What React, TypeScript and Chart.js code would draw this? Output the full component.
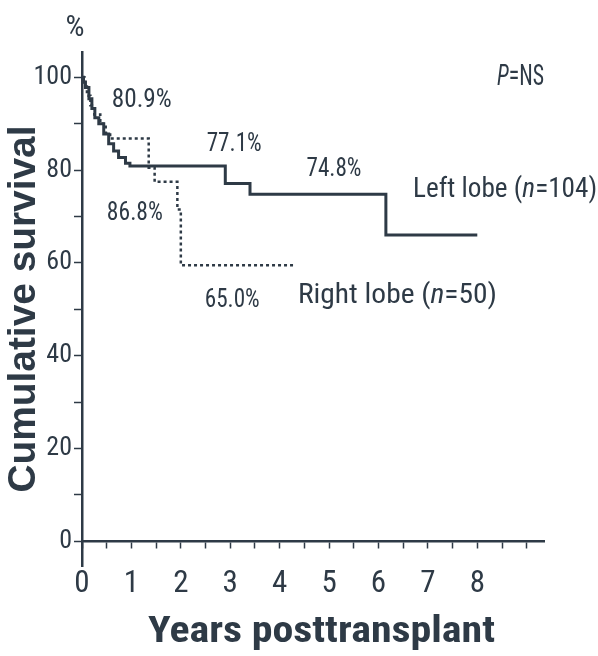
import React, { useEffect, useRef } from "react";
import { Chart, registerables } from "chart.js";

Chart.register(...registerables);

// ---- data ----
const leftYears = [0, 0.03, 0.07, 0.14, 0.2, 0.26, 0.34, 0.44, 0.54, 0.64, 0.74, 0.88, 0.97, 2.9, 3.4, 6.15, 8.0];
const leftSurvival = [100, 99, 97.8, 95.4, 93.3, 91.3, 90.0, 87.8, 85.7, 84.1, 82.7, 81.5, 80.9, 77.1, 74.8, 66.0, 66.0];

const rightYears = [0, 0.05, 0.1, 0.17, 0.25, 0.37, 0.48, 0.57, 1.35, 1.47, 1.93, 2.0, 4.3];
const rightSurvival = [100, 98, 96, 94, 92, 90, 88, 86.8, 80.5, 77.5, 71.5, 59.5, 59.5];

const xTickValues = [0, 0.5, 1, 1.5, 2, 2.5, 3, 3.5, 4, 4.5, 5, 5.5, 6, 6.5, 7, 7.5, 8, 8.5, 9];
const xLabelValues = [0, 1, 2, 3, 4, 5, 6, 7, 8];
const xLabels = ["0", "1", "2", "3", "4", "5", "6", "7", "8"];

const yTickValues = [0, 10, 20, 30, 40, 50, 60, 70, 80, 90, 100];
const yLabelValues = [0, 20, 40, 60, 80, 100];
const yLabels = ["0", "20", "40", "60", "80", "100"];

const xTitle = "Years posttransplant";
const yTitle = "Cumulative survival";
const yUnit = "%";

type Part = { t: string; italic?: boolean };
type Note = { parts: Part[]; x: number; y: number; align: "left" | "center"; size: number; w: number };

// annotation text, anchored in data coordinates; w = width in px it should occupy
const notes: Note[] = [
  { parts: [{ t: "80.9%" }], x: 1.21, y: 94.9, align: "center", size: 25, w: 60 },
  { parts: [{ t: "77.1%" }], x: 3.08, y: 85.4, align: "center", size: 25, w: 55 },
  { parts: [{ t: "74.8%" }], x: 5.1, y: 80.0, align: "center", size: 25, w: 55 },
  { parts: [{ t: "86.8%" }], x: 1.07, y: 70.7, align: "center", size: 25, w: 56 },
  { parts: [{ t: "65.0%" }], x: 3.04, y: 51.9, align: "center", size: 25, w: 55 },
  { parts: [{ t: "Left lobe (" }, { t: "n", italic: true }, { t: "=104)" }], x: 6.7, y: 75.7, align: "left", size: 28, w: 184 },
  { parts: [{ t: "Right lobe (" }, { t: "n", italic: true }, { t: "=50)" }], x: 4.37, y: 52.8, align: "left", size: 28, w: 199 },
  { parts: [{ t: "P", italic: true }, { t: "=NS" }], x: 8.4, y: 99.8, align: "left", size: 29, w: 47 },
  { parts: [{ t: yUnit }], x: -0.14, y: 110.6, align: "center", size: 30, w: 19 },
];

const INK = "#2e3a46";
const BASE = '"Liberation Sans", Arial, sans-serif';

type FontPick = { family: string; stretch: string; sx: number };
function pickNarrow(): FontPick {
  try {
    const ctx = document.createElement("canvas").getContext("2d");
    if (!ctx) throw new Error("no ctx");
    const s = "100 Left lobe (n=104) 80.9%";
    const w = (f: string) => {
      ctx.font = f;
      return ctx.measureText(s).width;
    };
    const wm = w("26px monospace");
    const wBase = w('26px "Liberation Sans"');
    const cands = [
      { pre: "", fam: '"Liberation Sans Narrow"' },
      { pre: "", fam: '"Arial Narrow"' },
      { pre: "", fam: '"Roboto Condensed"' },
      { pre: "condensed ", fam: '"Liberation Sans"' },
      { pre: "condensed ", fam: "Roboto" },
      { pre: "condensed ", fam: '"Open Sans"' },
      { pre: "", fam: '"DejaVu Sans Condensed"' },
      { pre: "condensed ", fam: '"DejaVu Sans"' },
    ];
    for (const c of cands) {
      const a = w(`${c.pre}26px ${c.fam}, monospace`);
      const b = w(`${c.pre}26px ${c.fam}, serif`);
      if (Math.abs(a - b) < 0.01 && Math.abs(a - wm) > 0.5 && a < wBase * 0.92) {
        return { family: `${c.fam}, ${BASE}`, stretch: c.pre.trim(), sx: 1 };
      }
    }
  } catch (e) {
    /* ignore */
  }
  return { family: BASE, stretch: "", sx: 0.82 };
}

const NARROW = pickNarrow();
const NATIVE = NARROW.sx === 1;
const fontStr = (size: number, italic = false, bold = false) =>
  `${italic ? "italic " : ""}${bold ? "bold " : ""}${NARROW.stretch ? NARROW.stretch + " " : ""}${size}px ${NARROW.family}`;

function drawScaled(ctx: CanvasRenderingContext2D, text: string, x: number, y: number, font: string, align: "left" | "center" | "right", sx: number) {
  ctx.font = font;
  const w = ctx.measureText(text).width * sx;
  let left = x;
  if (align === "center") left = x - w / 2;
  if (align === "right") left = x - w;
  ctx.save();
  ctx.translate(left, y);
  ctx.scale(sx, 1);
  ctx.textAlign = "left";
  ctx.fillText(text, 0, 0);
  ctx.restore();
  return w;
}

const X_LABEL_SIZE = 31;
const Y_LABEL_SIZE = 26;

const textPlugin = {
  id: "notes",
  afterDraw(chart: any) {
    const ctx: CanvasRenderingContext2D = chart.ctx;
    const xs = chart.scales.x;
    const ys = chart.scales.y;
    ctx.save();
    ctx.fillStyle = INK;
    ctx.textBaseline = "middle";
    for (const n of notes) {
      let natural = 0;
      for (const p of n.parts) {
        ctx.font = fontStr(n.size, !!p.italic);
        natural += ctx.measureText(p.t).width;
      }
      const k = n.w / natural;
      let px = xs.getPixelForValue(n.x);
      const py = ys.getPixelForValue(n.y);
      if (n.align === "center") px -= n.w / 2;
      for (const p of n.parts) {
        px += drawScaled(ctx, p.t, px, py, fontStr(n.size, !!p.italic), "left", k);
      }
    }
    if (!NATIVE) {
      const y0 = ys.getPixelForValue(0);
      ctx.textBaseline = "top";
      xLabelValues.forEach((v, i) => {
        drawScaled(ctx, xLabels[i], xs.getPixelForValue(v), y0 + 24, fontStr(X_LABEL_SIZE), "center", NARROW.sx);
      });
      ctx.textBaseline = "middle";
      const x0 = xs.getPixelForValue(0);
      yLabelValues.forEach((v, i) => {
        drawScaled(ctx, yLabels[i], x0 - 10, ys.getPixelForValue(v), fontStr(Y_LABEL_SIZE), "right", NARROW.sx);
      });
    }
    // axis titles, fitted to the reference extents
    const area = chart.chartArea;
    ctx.textBaseline = "middle";
    ctx.font = `bold 38px ${BASE}`;
    const yk = 367 / ctx.measureText(yTitle).width;
    ctx.save();
    ctx.translate(25, (area.top + area.bottom) / 2);
    ctx.rotate(-Math.PI / 2);
    drawScaled(ctx, yTitle, 0, 0, `bold 38px ${BASE}`, "center", yk);
    ctx.restore();
    const xFont = fontStr(37, false, true);
    ctx.font = xFont;
    const xk = 347 / ctx.measureText(xTitle).width;
    drawScaled(ctx, xTitle, 321.5, 633, xFont, "center", xk);
    ctx.restore();
  },
};

export default function App() {
  const ref = useRef<HTMLCanvasElement>(null);
  useEffect(() => {
    const canvas = ref.current;
    if (!canvas) return;
    const chart = new Chart(canvas, {
      type: "line",
      data: {
        datasets: [
          {
            label: "Left lobe",
            data: leftYears.map((x, i) => ({ x, y: leftSurvival[i] })),
            stepped: "before",
            borderColor: INK,
            borderWidth: 3,
            pointRadius: 0,
            fill: false,
          },
          {
            label: "Right lobe",
            data: rightYears.map((x, i) => ({ x, y: rightSurvival[i] })),
            stepped: "before",
            borderColor: INK,
            borderWidth: 2.5,
            borderDash: [3, 3],
            borderCapStyle: "butt",
            pointRadius: 0,
            fill: false,
          },
        ],
      },
      options: {
        animation: false,
        responsive: false,
        devicePixelRatio: 1,
        layout: { padding: { left: 0, right: 54, top: 52, bottom: 90 } },
        plugins: { legend: { display: false }, tooltip: { enabled: false }, title: { display: false } },
        scales: {
          x: {
            type: "linear",
            position: { y: 0 } as any,
            min: 0,
            max: 9.35,
            afterBuildTicks: (s: any) => {
              s.ticks = xTickValues.map((v) => ({ value: v }));
            },
            ticks: {
              display: NATIVE,
              autoSkip: false,
              maxRotation: 0,
              padding: 18,
              color: INK,
              font: { family: NARROW.family, size: X_LABEL_SIZE, weight: NARROW.stretch || undefined },
              callback: (v: any) => {
                const i = xLabelValues.indexOf(Number(v));
                return i >= 0 ? xLabels[i] : "";
              },
            },
            grid: { drawOnChartArea: false, drawTicks: true, tickLength: 6, tickColor: INK, tickWidth: 1.5 },
            border: { display: true, color: INK, width: 2.5 },
          },
          y: {
            type: "linear",
            position: "left",
            min: -5.3,
            max: 105.45,
            afterFit: (s: any) => {
              s.width = 82;
            },
            afterBuildTicks: (s: any) => {
              s.ticks = yTickValues.map((v) => ({ value: v }));
            },
            ticks: {
              display: NATIVE,
              autoSkip: false,
              padding: 2,
              color: INK,
              font: { family: NARROW.family, size: Y_LABEL_SIZE, weight: NARROW.stretch || undefined },
              callback: (v: any) => {
                const i = yLabelValues.indexOf(Number(v));
                return i >= 0 ? yLabels[i] : "";
              },
            },
            grid: { drawOnChartArea: false, drawTicks: true, tickLength: 8, tickColor: INK, tickWidth: 1.5 },
            border: { display: true, color: INK, width: 2.5 },
          },
        },
      },
      plugins: [textPlugin],
    } as any);
    return () => chart.destroy();
  }, []);
  return (
    <div style={{ position: "absolute", left: 0, top: 0, width: 598, height: 656, background: "#fff" }}>
      <canvas ref={ref} width={598} height={656} style={{ display: "block" }} />
    </div>
  );
}
